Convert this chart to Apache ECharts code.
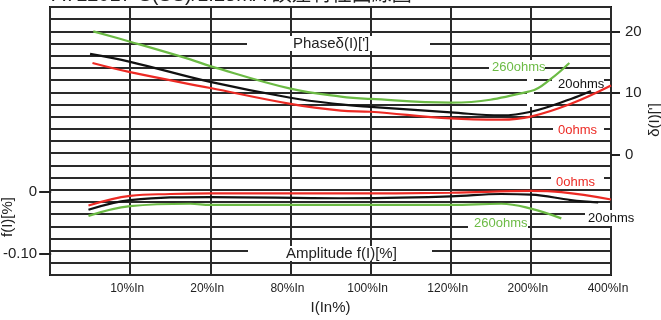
<!DOCTYPE html>
<html>
<head>
<meta charset="utf-8">
<script src="https://cdn.jsdelivr.net/npm/echarts@6/dist/echarts.min.js"></script>
<style>
  html, body { margin: 0; padding: 0; background: #fff; }
  #chart { width: 661px; height: 320px; }
</style>
</head>
<body>
<div id="chart"></div>
<script>
// x axis: one label per vertical grid line
const xLabels = ['', '10%In', '20%In', '80%In', '100%In', '120%In', '200%In', '400%In'];

// phase δ(I) ['] curves (right axis)
const phaseX0 = [0.53, 1, 2, 3, 3.63, 4, 5, 5.63, 6, 6.5, 7];
const phase0 = [14.8, 13.3, 10.7, 8.1, 7.0, 6.8, 5.7, 5.5, 6.0, 8.1, 11.1];
const phaseX20 = [0.5, 1, 2, 3, 3.63, 4, 5, 5.63, 6, 6.5, 6.75];
const phase20 = [16.3, 15.0, 11.7, 9.1, 8.0, 7.6, 6.7, 6.2, 6.8, 8.9, 10.2];
const phaseX260 = [0.54, 1, 1.75, 2, 3, 3.63, 4, 5, 6, 6.25, 6.48];
const phase260 = [20.0, 18.3, 15.4, 14.3, 10.6, 9.3, 8.9, 8.3, 10.2, 12.2, 14.8];

// amplitude f(I) [%] curves (left axis)
const ampX0 = [0.48, 1, 1.5, 2, 3.63, 5, 6, 6.38, 7];
const amp0 = [-0.026, -0.010, -0.007, -0.006, -0.006, -0.005, -0.002, -0.004, -0.016];
const ampX20 = [0.48, 1, 2, 3.63, 5, 5.63, 6, 6.5, 6.84];
const amp20 = [-0.033, -0.017, -0.012, -0.014, -0.011, -0.007, -0.008, -0.017, -0.021];
const ampX260 = [0.48, 1, 1.75, 2, 3.63, 5, 5.63, 6, 6.38];
const amp260 = [-0.043, -0.027, -0.023, -0.025, -0.025, -0.025, -0.023, -0.031, -0.047];

const RED = '#ec2a24', BLACK = '#111', GREEN = '#6cbb45';
const FONT = '"Liberation Sans", Arial, sans-serif';

// plot box in px and the ranges of the two value scales
const L = 50, T = 7, W = 561, H = 271;
const PH_MIN = -20, PH_MAX = 24;
const AMP_MIN = -0.14, AMP_MAX = 0.30;
const phY = v => T + (PH_MAX - v) / (PH_MAX - PH_MIN) * H;
const ampY = v => T + (AMP_MAX - v) / (AMP_MAX - AMP_MIN) * H;

const zip = (xs, ys) => xs.map((x, i) => [x, ys[i]]);

const chart = echarts.init(document.getElementById('chart'));

function line(name, xs, ys, color, yAxisIndex) {
  return {
    name, type: 'line', xAxisIndex: 0, yAxisIndex,
    data: zip(xs, ys), smooth: 0.4, showSymbol: false, clip: false,
    lineStyle: { color, width: 2.2 }, z: 3
  };
}

function box(x1, y1, x2, y2) {
  return { type: 'rect', z: 1, shape: { x: x1, y: y1, width: x2 - x1, height: y2 - y1 },
    style: { fill: '#fff' } };
}
function label(text, x, y, color, size) {
  return { type: 'text', z: 2, x, y,
    style: { text, fill: color, font: size + 'px ' + FONT, textAlign: 'left', textVerticalAlign: 'middle' } };
}

const gridLine = { show: true, lineStyle: { color: '#2a2a2a', width: 2 } };
const noLine = { show: false, onZero: false };

chart.setOption({
  animation: false,
  grid: [
    { left: L, top: T, width: W, height: H, show: true, borderColor: '#111', borderWidth: 2 },
    { left: L, top: phY(20), width: W, height: phY(0) - phY(20) },
    { left: L, top: ampY(0), width: W, height: ampY(-0.1) - ampY(0) }
  ],
  xAxis: [
    {
      gridIndex: 0, type: 'value', min: 0, max: 7, interval: 1,
      axisLine: noLine, axisTick: { show: false }, splitLine: gridLine,
      axisLabel: { formatter: v => xLabels[v], color: '#222', fontSize: 12, fontFamily: FONT,
        margin: 8, padding: [0, 6, 0, 0] },
      name: 'I(In%)', nameLocation: 'middle', nameGap: 25,
      nameTextStyle: { color: '#222', fontSize: 15, fontFamily: FONT }
    },
    { gridIndex: 1, type: 'value', min: 0, max: 1, show: false, axisLine: noLine },
    { gridIndex: 2, type: 'value', min: 0, max: 1, show: false, axisLine: noLine }
  ],
  yAxis: [
    { gridIndex: 0, type: 'value', min: PH_MIN, max: PH_MAX, interval: 2, position: 'right',
      axisLine: noLine, axisTick: { show: false }, axisLabel: { show: false }, splitLine: gridLine },
    { gridIndex: 0, type: 'value', min: AMP_MIN, max: AMP_MAX, show: false, axisLine: noLine,
      splitLine: { show: false } },
    { gridIndex: 1, type: 'value', min: 0, max: 20, interval: 10, position: 'right',
      axisLine: noLine, splitLine: { show: false },
      axisTick: { show: true, length: 9, lineStyle: { color: '#222', width: 2 } },
      axisLabel: { color: '#222', fontSize: 15, fontFamily: FONT, margin: 14 } },
    { gridIndex: 2, type: 'value', min: -0.1, max: 0, interval: 0.1, position: 'left',
      axisLine: noLine, splitLine: { show: false },
      axisTick: { show: true, length: 12, lineStyle: { color: '#222', width: 2 } },
      axisLabel: { color: '#222', fontSize: 15, fontFamily: FONT, margin: 14,
        formatter: v => (v === 0 ? '0' : v.toFixed(2)) } }
  ],
  series: [
    line('phase 0ohms', phaseX0, phase0, RED, 0),
    line('phase 20ohms', phaseX20, phase20, BLACK, 0),
    line('phase 260ohms', phaseX260, phase260, GREEN, 0),
    line('amp 0ohms', ampX0, amp0, RED, 1),
    line('amp 20ohms', ampX20, amp20, BLACK, 1),
    line('amp 260ohms', ampX260, amp260, GREEN, 1)
  ],
  graphic: [
    // title, clipped at the top edge
    { type: 'text', x: 52, y: 5, z: 2,
      style: { text: 'ATL2017-S(SS)/1.25mA 誤差特性曲線圖', fill: '#222',
        font: '20px ' + FONT + ', "Noto Sans CJK TC"', textAlign: 'left', textVerticalAlign: 'bottom' } },
    // axis names
    { type: 'text', x: 655, y: 120, rotation: Math.PI / 2, z: 2,
      style: { text: "δ(I)[']", fill: '#222', font: '15px ' + FONT, textAlign: 'center', textVerticalAlign: 'middle' } },
    { type: 'text', x: 8, y: 217, rotation: Math.PI / 2, z: 2,
      style: { text: 'f(I)[%]', fill: '#222', font: '15px ' + FONT, textAlign: 'center', textVerticalAlign: 'middle' } },
    // panel captions and curve labels on white boxes
    box(247, 36, 430, 51), label("Phaseδ(I)[']", 293, 44, '#222', 15),
    box(248, 246, 432, 261), label('Amplitude f(I)[%]', 286, 253.5, '#222', 15),
    box(489, 60, 545, 75), label('260ohms', 492, 67, GREEN, 13),
    box(552, 76, 604, 90), label('20ohms', 558, 84, BLACK, 13),
    box(553, 123, 604, 138), label('0ohms', 558, 130, RED, 13),
    box(551, 175, 604, 189), label('0ohms', 556, 182, RED, 13),
    box(468, 215, 528, 231), label('260ohms', 474, 223, GREEN, 13),
    box(585, 210, 635, 226), label('20ohms', 588, 218, BLACK, 13),
    box(527, 60, 534, 107)
  ]
});
</script>
</body>
</html>
